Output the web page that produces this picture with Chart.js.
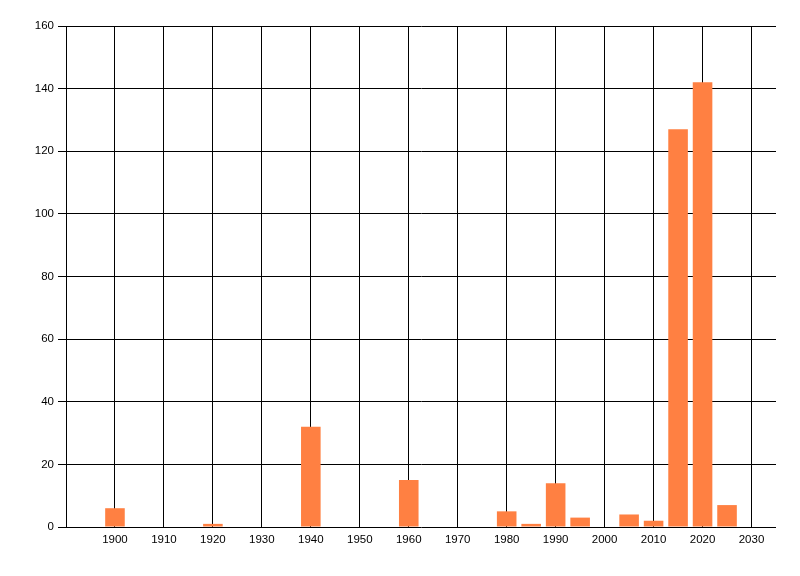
<!DOCTYPE html>
<html>
<head>
<meta charset="utf-8">
<script src="https://cdn.jsdelivr.net/npm/chart.js@4/dist/chart.umd.min.js"></script>
<style>
    html, body { margin: 0; padding: 0; background: #fff; }
    #wrap { width: 800px; height: 576px; }
</style>
</head>
<body>
<div id="wrap"><canvas id="chart" width="800" height="576"></canvas></div>
<script>
/* data */
const years = [1900, 1920, 1940, 1960, 1980, 1985, 1990, 1995, 2005, 2010, 2015, 2020, 2025];
const counts = [6, 1, 32, 15, 5, 1, 14, 3, 4, 2, 127, 142, 7];

const xMin = 1890;
const xMax = 2035;
const xStep = 10;
const yMax = 160;
const yStep = 20;

const tickFont = { family: "'Liberation Sans', Arial, sans-serif", size: 11.5 };

const chart = new Chart(document.getElementById("chart"), {

    type: "bar",

    data: {
        datasets: [
            {
                data: years.map((y, i) => ({ x: y, y: counts[i] })),
                backgroundColor: "#FF8042",
                borderWidth: 0,
                barPercentage: 0.8,
                categoryPercentage: 1
            }
        ]
    },

    options: {

        responsive: false,
        animation: false,

        layout: {
            padding: { left: 0, top: 26, right: 24, bottom: 0 }
        },

        plugins: {
            legend: { display: false },
            tooltip: { enabled: false }
        },

        scales: {

            x: {
                type: "linear",
                min: xMin,
                max: xMax,
                offset: false,
                grid: {
                    color: "#000",
                    lineWidth: 1,
                    drawTicks: false,
                    offset: false
                },
                border: { display: false },
                ticks: {
                    stepSize: xStep,
                    includeBounds: false,
                    color: "#000",
                    font: tickFont,
                    padding: 6,
                    maxRotation: 0,
                    autoSkip: false,
                    callback: v => (v === xMin ? "" : String(v))
                },
                afterFit: s => { s.height = 49; }
            },

            y: {
                min: 0,
                max: yMax,
                grid: {
                    color: "#000",
                    lineWidth: 1,
                    tickLength: 8
                },
                border: { display: true, color: "#000", width: 1 },
                ticks: {
                    stepSize: yStep,
                    color: "#000",
                    font: tickFont,
                    padding: 4
                },
                afterFit: s => { s.width = 66; }
            }

        }

    }

});
</script>
</body>
</html>
